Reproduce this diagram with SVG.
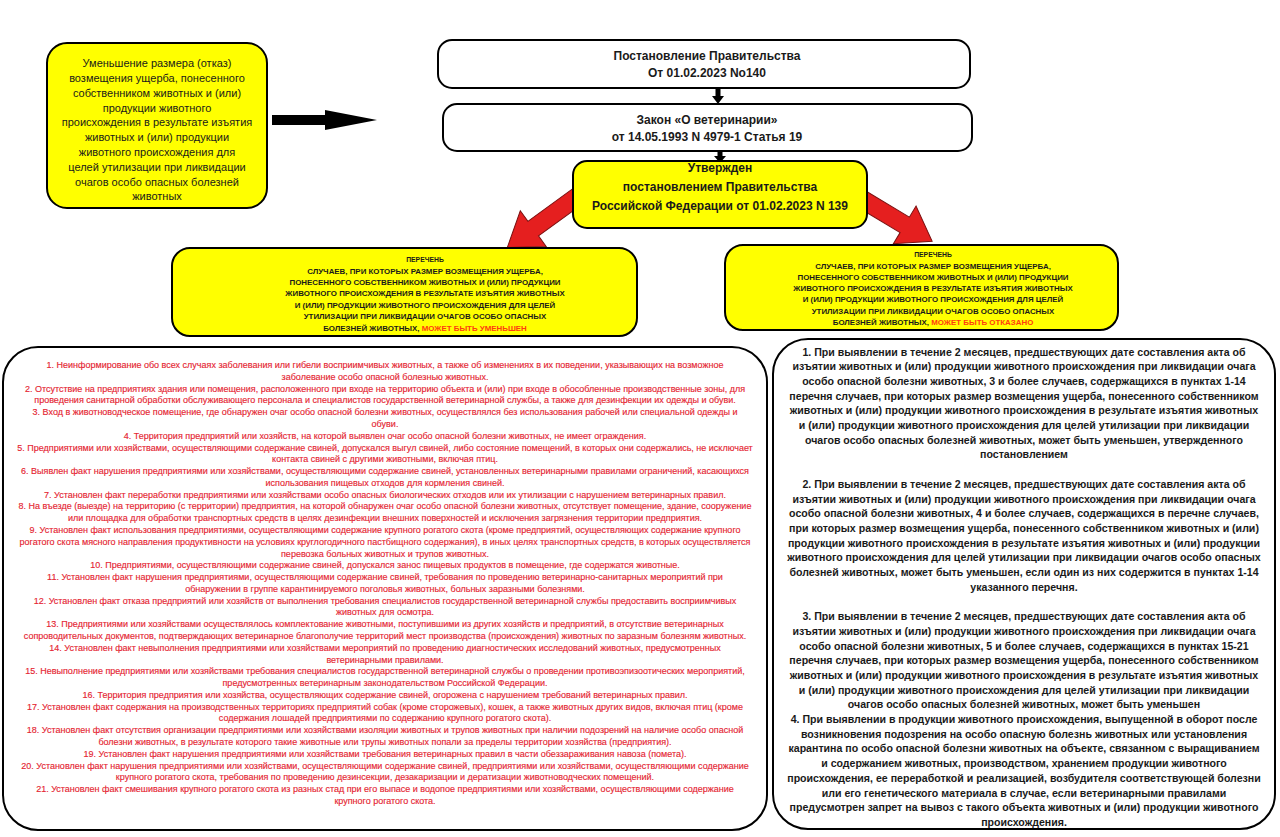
<svg xmlns="http://www.w3.org/2000/svg" width="1280" height="837" viewBox="0 0 1280 837">
<style>
.box{stroke:#000;stroke-width:2}
.yel{fill:#ffff00}
.wht{fill:#fff}
.t{font-family:"Liberation Sans",Arial,sans-serif;text-anchor:middle;fill:#1a1a1a}
.tl{font-size:11px}
.tb{font-size:12px;font-weight:bold}
.th{font-size:7.9px;font-weight:bold}
.red{font-size:9px;fill:#e52532;stroke:#e52532;stroke-width:0.15}
.rt{font-size:10.6px;font-weight:bold}
.hl{fill:#ff3b10}
.ra{fill:#e51f1f;stroke:#7a1010;stroke-width:1}
.ba{fill:#000}
</style>
<rect width="1280" height="837" fill="#fff"/>
<g id="connectors">
<polygon class="ba" points="272,115 325,115 325,110 377,120 325,130 325,125 272,125"/>
<polygon class="ba" points="715.5,88 720.5,88 720.5,96 724,96 718,104 712,96 715.5,96"/>
<polygon class="ba" points="717.5,151 722.5,151 722.5,156 726,156 720,163 714,156 717.5,156"/>
<polygon class="ra" transform="translate(585,191) rotate(144)" points="0,-9 64,-9 64,-22 96,0 64,22 64,9 0,9"/>
<polygon class="ra" transform="translate(855,195) rotate(31)" points="0,-9 58,-9 58,-22 90,0 58,22 58,9 0,9"/>
</g>
<g id="node-reduction">
<rect class="box yel" x="47" y="43" width="220" height="165" rx="20"/>
<g class="t tl">
<text x="157" y="67">Уменьшение размера (отказ)</text>
<text x="157" y="82">возмещения ущерба, понесенного</text>
<text x="157" y="96.5">собственником животных и (или)</text>
<text x="157" y="111.5">продукции животного</text>
<text x="157" y="126">происхождения в результате изъятия</text>
<text x="157" y="141">животных и (или) продукции</text>
<text x="157" y="156">животного происхождения для</text>
<text x="157" y="170.5">целей утилизации при ликвидации</text>
<text x="157" y="185.5">очагов особо опасных болезней</text>
<text x="157" y="200">животных</text>
</g>
</g>
<g id="node-postanovlenie140">
<rect class="box wht" x="438" y="40" width="532" height="48" rx="14"/>
<text class="t tb" x="707" y="60">Постановление Правительства</text>
<text class="t tb" x="707" y="77">От 01.02.2023 No140</text>
</g>
<g id="node-zakon">
<rect class="box wht" x="443" y="104" width="529" height="47" rx="14"/>
<text class="t tb" x="707" y="124">Закон «О ветеринарии»</text>
<text class="t tb" x="707" y="141">от 14.05.1993 N 4979-1 Статья 19</text>
</g>
<g id="node-utverzhden">
<rect class="box yel" x="573" y="161" width="294" height="67" rx="14"/>
<text class="t tb" x="720" y="172">Утвержден</text>
<text class="t tb" x="720" y="191">постановлением Правительства</text>
<text class="t tb" x="720" y="210">Российской Федерации от 01.02.2023 N 139</text>
</g>
<g id="node-perechen-umenshen">
<rect class="box yel" x="172" y="248" width="465" height="88" rx="18"/>
<g class="t th">
<text x="425" y="262" style="font-size:6.8px">ПЕРЕЧЕНЬ</text>
<text x="425" y="274">СЛУЧАЕВ, ПРИ КОТОРЫХ РАЗМЕР ВОЗМЕЩЕНИЯ УЩЕРБА,</text>
<text x="425" y="285">ПОНЕСЕННОГО СОБСТВЕННИКОМ ЖИВОТНЫХ И (ИЛИ) ПРОДУКЦИИ</text>
<text x="425" y="296">ЖИВОТНОГО ПРОИСХОЖДЕНИЯ В РЕЗУЛЬТАТЕ ИЗЪЯТИЯ ЖИВОТНЫХ</text>
<text x="425" y="308">И (ИЛИ) ПРОДУКЦИИ ЖИВОТНОГО ПРОИСХОЖДЕНИЯ ДЛЯ ЦЕЛЕЙ</text>
<text x="425" y="319">УТИЛИЗАЦИИ ПРИ ЛИКВИДАЦИИ ОЧАГОВ ОСОБО ОПАСНЫХ</text>
<text x="425" y="331">БОЛЕЗНЕЙ ЖИВОТНЫХ, <tspan class="hl">МОЖЕТ БЫТЬ УМЕНЬШЕН</tspan></text>
</g>
</g>
<g id="node-perechen-otkazano">
<rect class="box yel" x="725" y="245" width="393" height="85" rx="18"/>
<g class="t th">
<text x="933" y="257" style="font-size:6.8px">ПЕРЕЧЕНЬ</text>
<text x="933" y="269">СЛУЧАЕВ, ПРИ КОТОРЫХ РАЗМЕР ВОЗМЕЩЕНИЯ УЩЕРБА,</text>
<text x="933" y="280">ПОНЕСЕННОГО СОБСТВЕННИКОМ ЖИВОТНЫХ И (ИЛИ) ПРОДУКЦИИ</text>
<text x="933" y="291">ЖИВОТНОГО ПРОИСХОЖДЕНИЯ В РЕЗУЛЬТАТЕ ИЗЪЯТИЯ ЖИВОТНЫХ</text>
<text x="933" y="302">И (ИЛИ) ПРОДУКЦИИ ЖИВОТНОГО ПРОИСХОЖДЕНИЯ ДЛЯ ЦЕЛЕЙ</text>
<text x="933" y="314">УТИЛИЗАЦИИ ПРИ ЛИКВИДАЦИИ ОЧАГОВ ОСОБО ОПАСНЫХ</text>
<text x="933" y="325">БОЛЕЗНЕЙ ЖИВОТНЫХ, <tspan class="hl">МОЖЕТ БЫТЬ ОТКАЗАНО</tspan></text>
</g>
</g>
<g id="node-list-left">
<rect class="box wht" x="3" y="347" width="764" height="483" rx="35"/>
<g class="t red">
<text x="385" y="368">1. Неинформирование обо всех случаях заболевания или гибели восприимчивых животных, а также об изменениях в их поведении, указывающих на возможное</text>
<text x="385" y="379.8">заболевание особо опасной болезнью животных.</text>
<text x="385" y="391.6">2. Отсутствие на предприятиях здания или помещения, расположенного при входе на территорию объекта и (или) при входе в обособленные производственные зоны,  для</text>
<text x="385" y="403.3">проведения санитарной обработки обслуживающего персонала и специалистов государственной ветеринарной службы, а также для дезинфекции их одежды и обуви.</text>
<text x="385" y="415.1">3. Вход в животноводческое помещение, где обнаружен очаг особо опасной болезни животных, осуществлялся без использования рабочей или специальной одежды и</text>
<text x="385" y="426.9">обуви.</text>
<text x="385" y="438.7">4. Территория предприятий или хозяйств, на которой выявлен очаг особо опасной болезни животных, не имеет ограждения.</text>
<text x="385" y="450.5">5. Предприятиями или хозяйствами, осуществляющими содержание свиней, допускался выгул свиней, либо состояние помещений, в которых они содержались, не исключает</text>
<text x="385" y="462.2">контакта свиней с другими животными, включая птиц.</text>
<text x="385" y="474">6. Выявлен факт нарушения предприятиями или хозяйствами, осуществляющими содержание свиней, установленных ветеринарными правилами ограничений, касающихся</text>
<text x="385" y="485.8">использования пищевых отходов для кормления свиней.</text>
<text x="385" y="497.6">7. Установлен факт переработки предприятиями или хозяйствами особо опасных биологических отходов или их утилизации с нарушением ветеринарных правил.</text>
<text x="385" y="509.4">8. На въезде (выезде) на территорию (с территории) предприятия, на которой обнаружен очаг особо опасной болезни животных, отсутствует помещение, здание, сооружение</text>
<text x="385" y="521.1">или площадка для обработки транспортных средств в целях дезинфекции внешних поверхностей и исключения загрязнения территории предприятия.</text>
<text x="385" y="532.9">9. Установлен факт использования предприятиями, осуществляющими содержание крупного рогатого скота (кроме предприятий, осуществляющих содержание крупного</text>
<text x="385" y="544.7">рогатого скота мясного направления продуктивности на условиях круглогодичного пастбищного содержания), в иных целях транспортных средств, в которых осуществляется</text>
<text x="385" y="556.5">перевозка больных животных и трупов животных.</text>
<text x="385" y="568.3">10. Предприятиями, осуществляющими содержание свиней, допускался занос пищевых продуктов в помещение, где содержатся животные.</text>
<text x="385" y="580">11. Установлен факт нарушения предприятиями, осуществляющими содержание свиней, требования по проведению ветеринарно-санитарных мероприятий при</text>
<text x="385" y="591.8">обнаружении в группе карантинируемого поголовья животных, больных заразными болезнями.</text>
<text x="385" y="603.6">12. Установлен факт отказа предприятий или хозяйств от выполнения требования специалистов государственной ветеринарной службы предоставить восприимчивых</text>
<text x="385" y="615.4">животных для осмотра.</text>
<text x="385" y="627.2">13. Предприятиями или хозяйствами осуществлялось комплектование животными, поступившими из других хозяйств и предприятий, в отсутствие ветеринарных</text>
<text x="385" y="638.9">сопроводительных документов, подтверждающих ветеринарное благополучие территорий мест производства (происхождения) животных по заразным болезням животных.</text>
<text x="385" y="650.7">14. Установлен факт невыполнения предприятиями или хозяйствами мероприятий по проведению диагностических исследований животных, предусмотренных</text>
<text x="385" y="662.5">ветеринарными правилами.</text>
<text x="385" y="674.3">15. Невыполнение предприятиями или хозяйствами требования специалистов государственной ветеринарной службы о проведении противоэпизоотических мероприятий,</text>
<text x="385" y="686.1">предусмотренных ветеринарным законодательством Российской Федерации.</text>
<text x="385" y="697.8">16. Территория предприятия или хозяйства, осуществляющих содержание свиней, огорожена с нарушением требований ветеринарных правил.</text>
<text x="385" y="709.6">17. Установлен факт содержания на производственных территориях предприятий собак (кроме сторожевых), кошек, а также животных других видов, включая птиц (кроме</text>
<text x="385" y="721.4">содержания лошадей предприятиями по содержанию крупного рогатого скота).</text>
<text x="385" y="733.2">18. Установлен факт отсутствия организации предприятиями или хозяйствами изоляции животных и трупов животных при наличии подозрений на наличие особо опасной</text>
<text x="385" y="745">болезни животных, в результате которого такие животные или трупы животных попали за пределы территории хозяйства (предприятия).</text>
<text x="385" y="756.7">19. Установлен факт нарушения предприятиями или хозяйствами требования ветеринарных правил в части обеззараживания навоза (помета).</text>
<text x="385" y="768.5">20. Установлен факт нарушения предприятиями или хозяйствами, осуществляющими содержание свиней, предприятиями или хозяйствами, осуществляющими содержание</text>
<text x="385" y="780.3">крупного рогатого скота, требования по проведению дезинсекции, дезакаризации и дератизации животноводческих помещений.</text>
<text x="385" y="792.1">21. Установлен факт смешивания крупного рогатого скота из разных стад при его выпасе и водопое предприятиями или хозяйствами, осуществляющими содержание</text>
<text x="385" y="803.9">крупного рогатого скота.</text>
</g>
</g>
<g id="node-list-right">
<rect class="box wht" x="773" y="339" width="502" height="490" rx="35"/>
<g class="t rt">
<text x="1024" y="355.5">1. При выявлении в течение 2 месяцев, предшествующих дате составления акта об</text>
<text x="1024" y="370.2">изъятии животных и (или) продукции животного происхождения при ликвидации очага</text>
<text x="1024" y="384.9">особо опасной болезни животных, 3 и более случаев, содержащихся в пунктах 1-14</text>
<text x="1024" y="399.6">перечня случаев, при которых размер возмещения ущерба, понесенного собственником</text>
<text x="1024" y="414.3">животных и (или) продукции животного происхождения в результате изъятия животных</text>
<text x="1024" y="429">и (или) продукции животного происхождения для целей утилизации при ликвидации</text>
<text x="1024" y="443.7">очагов особо опасных болезней животных, может быть уменьшен, утвержденного</text>
<text x="1024" y="458.4">постановлением</text>
<text x="1024" y="487.8">2. При выявлении в течение 2 месяцев, предшествующих дате составления акта об</text>
<text x="1024" y="502.5">изъятии животных и (или) продукции животного происхождения при ликвидации очага</text>
<text x="1024" y="517.2">особо опасной болезни животных, 4 и более случаев, содержащихся в перечне случаев,</text>
<text x="1024" y="531.9">при которых размер возмещения ущерба, понесенного собственником животных и (или)</text>
<text x="1024" y="546.6">продукции животного происхождения в результате изъятия животных и (или) продукции</text>
<text x="1024" y="561.3">животного происхождения для целей утилизации при ликвидации очагов особо опасных</text>
<text x="1024" y="576">болезней животных, может быть уменьшен, если один из них содержится в пунктах 1-14</text>
<text x="1024" y="590.7">указанного перечня.</text>
<text x="1024" y="620.1">3. При выявлении в течение 2 месяцев, предшествующих дате составления акта об</text>
<text x="1024" y="634.8">изъятии животных и (или) продукции животного происхождения при ликвидации очага</text>
<text x="1024" y="649.5">особо опасной болезни животных, 5 и более случаев, содержащихся в пунктах 15-21</text>
<text x="1024" y="664.2">перечня случаев, при которых размер возмещения ущерба, понесенного собственником</text>
<text x="1024" y="678.9">животных и (или) продукции животного происхождения в результате изъятия животных</text>
<text x="1024" y="693.6">и (или) продукции животного происхождения для целей утилизации при ликвидации</text>
<text x="1024" y="708.3">очагов особо опасных болезней животных, может быть уменьшен</text>
<text x="1024" y="723">4. При выявлении в продукции животного происхождения, выпущенной в оборот после</text>
<text x="1024" y="737.7">возникновения подозрения на особо опасную болезнь животных или установления</text>
<text x="1024" y="752.4">карантина по особо опасной болезни животных на объекте, связанном с выращиванием</text>
<text x="1024" y="767.1">и содержанием животных, производством, хранением продукции животного</text>
<text x="1024" y="781.8">происхождения, ее переработкой и реализацией, возбудителя соответствующей болезни</text>
<text x="1024" y="796.5">или его генетического материала в случае, если ветеринарными правилами</text>
<text x="1024" y="811.2">предусмотрен запрет на вывоз с такого объекта животных и (или) продукции животного</text>
<text x="1024" y="825.9">происхождения.</text>
</g>
</g>
</svg>
